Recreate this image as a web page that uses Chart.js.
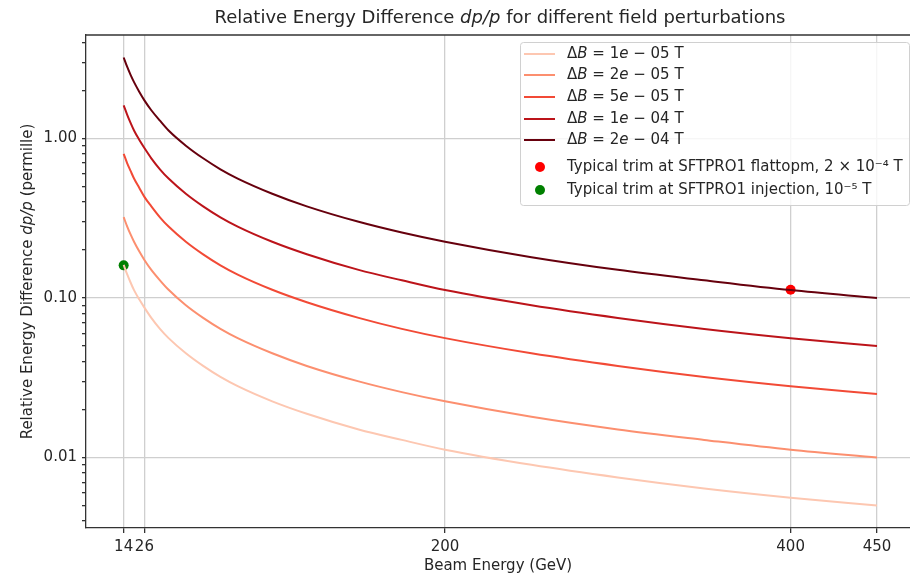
<!DOCTYPE html>
<html>
<head>
<meta charset="utf-8">
<script src="https://cdn.jsdelivr.net/npm/chart.js@4/dist/chart.umd.min.js"></script>
<style>
html, body { margin: 0; padding: 0; background: #fff; }
</style>
</head>
<body>
<canvas id="dp-chart" width="910" height="575"></canvas>
<script>
// beam energy (GeV) and dp/p (permille), one array per field step
const energies = [14, 16, 18, 20, 23, 26, 30, 35, 40, 50, 60, 70, 80, 100, 120, 150, 175, 200, 250, 300, 350, 400, 450];
const dB_1e5 = [0.161, 0.141, 0.125, 0.112, 0.098, 0.087, 0.075, 0.064, 0.056, 0.045, 0.0375, 0.032, 0.028, 0.0225, 0.0188, 0.015, 0.0129, 0.0112, 0.009, 0.0075, 0.0064, 0.0056, 0.005];
const dB_2e5 = [0.321, 0.281, 0.25, 0.225, 0.196, 0.173, 0.15, 0.129, 0.1125, 0.09, 0.075, 0.064, 0.056, 0.045, 0.0375, 0.03, 0.0257, 0.0225, 0.018, 0.015, 0.0129, 0.0112, 0.01];
const dB_5e5 = [0.80, 0.70, 0.625, 0.56, 0.49, 0.43, 0.375, 0.32, 0.28, 0.225, 0.1875, 0.16, 0.14, 0.1125, 0.094, 0.075, 0.064, 0.056, 0.045, 0.0375, 0.032, 0.028, 0.025];
const dB_1e4 = [1.61, 1.41, 1.25, 1.12, 0.98, 0.87, 0.75, 0.64, 0.56, 0.45, 0.375, 0.32, 0.28, 0.225, 0.188, 0.15, 0.129, 0.112, 0.09, 0.075, 0.064, 0.056, 0.05];
const dB_2e4 = [3.21, 2.81, 2.5, 2.25, 1.96, 1.73, 1.5, 1.29, 1.12, 0.9, 0.75, 0.64, 0.56, 0.45, 0.375, 0.3, 0.257, 0.225, 0.18, 0.15, 0.129, 0.112, 0.1];

const seriesLabels = ["ΔB = 1e − 05 T", "ΔB = 2e − 05 T", "ΔB = 5e − 05 T", "ΔB = 1e − 04 T", "ΔB = 2e − 04 T"];
const seriesColors = ["#fdc7b1", "#fc8f6f", "#f24a36", "#bc141a", "#67000d"];

// the two marked trims
const flattopPoint = { x: 400, y: 0.1125 };
const injectionPoint = { x: 14, y: 0.16 };
const trimLabels = ["Typical trim at SFTPRO1 flattopm, 2 × 10⁻⁴ T", "Typical trim at SFTPRO1 injection, 10⁻⁵ T"];
const trimColors = ["#ff0000", "#008000"];

const xTicks = [14, 26, 200, 400, 450];
const yMajorTicks = [0.01, 0.1, 1];
const yMinorTicks = [0.004, 0.005, 0.006, 0.007, 0.008, 0.009,
  0.02, 0.03, 0.04, 0.05, 0.06, 0.07, 0.08, 0.09,
  0.2, 0.3, 0.4, 0.5, 0.6, 0.7, 0.8, 0.9, 2, 3, 4];

const FONT = "'DejaVu Sans', sans-serif";
Chart.defaults.font.family = FONT;
Chart.defaults.color = "#262626";

const isMajor = v => yMajorTicks.some(m => Math.abs(v - m) / m < 1e-6);

const allSeries = [dB_1e5, dB_2e5, dB_5e5, dB_1e4, dB_2e4];
const datasets = allSeries.map((vals, i) => ({
  label: seriesLabels[i],
  data: energies.map((e, j) => ({ x: e, y: vals[j] })),
  borderColor: seriesColors[i],
  backgroundColor: seriesColors[i],
  borderWidth: 2,
  pointRadius: 0,
  cubicInterpolationMode: "monotone",
  fill: false
}));
[flattopPoint, injectionPoint].forEach((p, i) => {
  datasets.push({
    label: trimLabels[i],
    data: [p],
    showLine: false,
    pointRadius: 5,
    pointBorderWidth: 0,
    backgroundColor: trimColors[i],
    borderColor: trimColors[i]
  });
});

// text with some italic pieces (mathtext look)
function richParts(str, italicChars) {
  return str.split(new RegExp("([" + italicChars + "])")).filter(s => s.length)
    .map(s => ({ t: s, it: italicChars.includes(s) }));
}
function richWidth(ctx, parts, size) {
  let w = 0;
  parts.forEach(p => {
    ctx.font = (p.it ? "italic " : "") + size + "px " + FONT;
    w += ctx.measureText(p.t).width;
  });
  return w;
}
function drawRich(ctx, parts, x, y, size) {
  let cx = x;
  parts.forEach(p => {
    ctx.font = (p.it ? "italic " : "") + size + "px " + FONT;
    ctx.fillText(p.t, cx, y);
    cx += ctx.measureText(p.t).width;
  });
}

// axes box in the reference runs past the right edge of the picture
const AXES_RIGHT = 914;

const decor = {
  id: "decor",
  afterDraw(chart) {
    const ctx = chart.ctx;
    const a = chart.chartArea;
    ctx.save();
    // top spine
    ctx.strokeStyle = "#333";
    ctx.lineWidth = 1.3;
    ctx.beginPath();
    ctx.moveTo(a.left, a.top);
    ctx.lineTo(a.right, a.top);
    ctx.stroke();

    ctx.fillStyle = "#262626";
    ctx.textBaseline = "middle";
    // title
    const title = [{ t: "Relative Energy Difference " }, { t: "dp/p", it: true }, { t: " for different field perturbations" }];
    const tw = richWidth(ctx, title, 18);
    drawRich(ctx, title, (a.left + AXES_RIGHT) / 2 - tw / 2, 18, 18);

    // y axis label
    const ylab = [{ t: "Relative Energy Difference " }, { t: "dp/p", it: true }, { t: " (permille)" }];
    ctx.save();
    ctx.translate(28, (a.top + a.bottom) / 2);
    ctx.rotate(-Math.PI / 2);
    const yw = richWidth(ctx, ylab, 15);
    drawRich(ctx, ylab, -yw / 2, 0, 15);
    ctx.restore();

    // legend
    const bx = 520, by = 42, bw = 389, bh = 163;
    ctx.fillStyle = "rgba(255,255,255,0.8)";
    ctx.strokeStyle = "#d0d0d0";
    ctx.lineWidth = 1;
    ctx.beginPath();
    ctx.roundRect(bx + 0.5, by + 0.5, bw, bh, 3);
    ctx.fill();
    ctx.stroke();

    const rows = [54, 75, 97, 119, 140];
    seriesLabels.forEach((lab, i) => {
      ctx.strokeStyle = seriesColors[i];
      ctx.lineWidth = 2;
      ctx.beginPath();
      ctx.moveTo(524, rows[i]);
      ctx.lineTo(555, rows[i]);
      ctx.stroke();
      ctx.fillStyle = "#262626";
      drawRich(ctx, richParts(lab, "Be"), 567, rows[i], 15);
    });
    const mrows = [167, 190];
    trimLabels.forEach((lab, i) => {
      ctx.fillStyle = trimColors[i];
      ctx.beginPath();
      ctx.arc(540, mrows[i], 5, 0, Math.PI * 2);
      ctx.fill();
      ctx.fillStyle = "#262626";
      drawRich(ctx, [{ t: lab }], 567, mrows[i], 15);
    });
    ctx.restore();
  }
};

new Chart(document.getElementById("dp-chart"), {
  type: "line",
  data: { datasets },
  plugins: [decor],
  options: {
    responsive: false,
    animation: false,
    layout: { autoPadding: false, padding: { top: 35, right: 0, left: 0, bottom: 0 } },
    plugins: { legend: { display: false }, title: { display: false }, tooltip: { enabled: false } },
    scales: {
      x: {
        type: "linear",
        min: -7.8,
        max: 469.1,
        afterBuildTicks: s => { s.ticks = xTicks.map(v => ({ value: v })); },
        afterFit: s => { s.height = 47; s.paddingLeft = 0; s.paddingRight = 0; },
        ticks: { autoSkip: false, maxRotation: 0, padding: 5, font: { size: 15 }, callback: v => String(v) },
        grid: { color: "#cfcfcf", lineWidth: 1.3, tickLength: 5, tickColor: "#333" },
        border: { color: "#333", width: 1.3 },
        title: { display: true, text: "Beam Energy (GeV)", font: { size: 15 }, padding: { top: 0, bottom: 0 } }
      },
      y: {
        type: "logarithmic",
        min: 0.003619,
        max: 4.442,
        afterBuildTicks: s => { s.ticks = yMajorTicks.concat(yMinorTicks).sort((p, q) => p - q).map(v => ({ value: v })); },
        afterFit: s => { s.width = 86; s.paddingTop = 0; s.paddingBottom = 0; },
        ticks: { autoSkip: false, padding: 5, font: { size: 15 }, callback: v => isMajor(v) ? v.toFixed(2) : "" },
        grid: {
          color: c => (c.tick && isMajor(c.tick.value)) ? "#cfcfcf" : "rgba(0,0,0,0)",
          lineWidth: 1.3, tickLength: 4, tickColor: "#333"
        },
        border: { color: "#333", width: 1.3 }
      }
    }
  }
});
</script>
</body>
</html>
